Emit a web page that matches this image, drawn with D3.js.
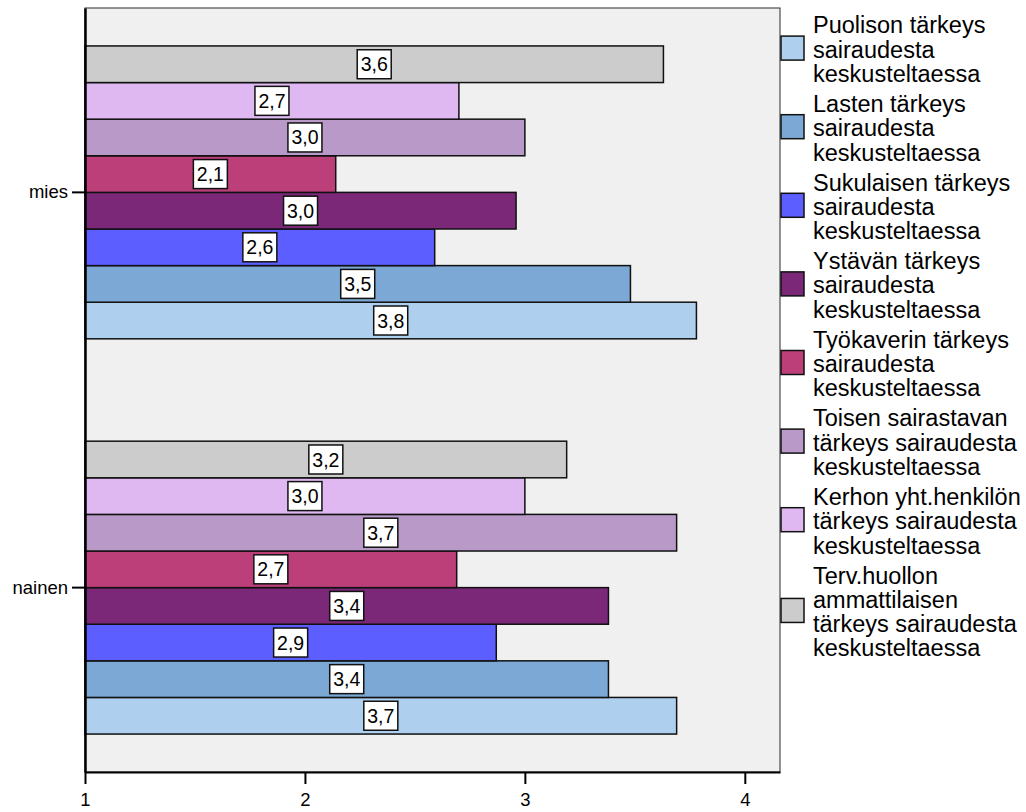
<!DOCTYPE html>
<html>
<head>
<meta charset="utf-8">
<script src="https://cdn.jsdelivr.net/npm/d3@7"></script>
<style>
  html, body { margin: 0; padding: 0; background: #ffffff; }
  svg { display: block; font-family: "Liberation Sans", Arial, sans-serif; }
</style>
</head>
<body>
<svg id="chart" width="1026" height="812"></svg>
<script>
// Groups on the vertical axis
const categories = ["mies", "nainen"];

// Series, in legend order
const seriesNames = [
  "Puolison tärkeys sairaudesta keskusteltaessa",
  "Lasten tärkeys sairaudesta keskusteltaessa",
  "Sukulaisen tärkeys sairaudesta keskusteltaessa",
  "Ystävän tärkeys sairaudesta keskusteltaessa",
  "Työkaverin tärkeys sairaudesta keskusteltaessa",
  "Toisen sairastavan tärkeys sairaudesta keskusteltaessa",
  "Kerhon yht.henkilön tärkeys sairaudesta keskusteltaessa",
  "Terv.huollon ammattilaisen tärkeys sairaudesta keskusteltaessa"
];

// Legend text, broken into lines
const legendLines = [
  ["Puolison tärkeys", "sairaudesta", "keskusteltaessa"],
  ["Lasten tärkeys", "sairaudesta", "keskusteltaessa"],
  ["Sukulaisen tärkeys", "sairaudesta", "keskusteltaessa"],
  ["Ystävän tärkeys", "sairaudesta", "keskusteltaessa"],
  ["Työkaverin tärkeys", "sairaudesta", "keskusteltaessa"],
  ["Toisen sairastavan", "tärkeys sairaudesta", "keskusteltaessa"],
  ["Kerhon yht.henkilön", "tärkeys sairaudesta", "keskusteltaessa"],
  ["Terv.huollon", "ammattilaisen", "tärkeys sairaudesta", "keskusteltaessa"]
];

const seriesColors = [
  "#aecfee", "#7ba8d5", "#5c5eff", "#7b2879",
  "#bc3f7a", "#b899c8", "#dfb8f1", "#cccccc"
];

// Mean values per group, same order as seriesNames
const miesValues   = [3.78, 3.48, 2.59, 2.96, 2.14, 3.00, 2.70, 3.63];
const nainenValues = [3.69, 3.38, 2.87, 3.38, 2.69, 3.69, 3.00, 3.19];

const xTickValues = [1, 2, 3, 4];

const valuesByCategory = { mies: miesValues, nainen: nainenValues };

const svg = d3.select("#chart");

const plot = { left: 85, right: 780, top: 8, bottom: 772 };

const x = d3.scaleLinear().domain([1, 4.16]).range([plot.left, plot.right]);

const y = d3.scaleBand()
  .domain(categories)
  .range([plot.top, plot.bottom])
  .paddingInner(0.259)
  .paddingOuter(0.096);

// Within a group the last series sits on top
const stackOrder = seriesNames.slice().reverse();
const yInner = d3.scaleBand().domain(stackOrder).range([0, y.bandwidth()]);

const color = d3.scaleOrdinal().domain(seriesNames).range(seriesColors);

// Plot background and frame
svg.append("rect")
  .attr("x", plot.left).attr("y", plot.top)
  .attr("width", plot.right - plot.left).attr("height", plot.bottom - plot.top)
  .attr("fill", "#f0f0f0")
  .attr("stroke", "#2a2a2a").attr("stroke-width", 1);

const fmt = v => d3.format(".1f")(v).replace(".", ",");

const groups = svg.append("g").selectAll("g")
  .data(categories)
  .join("g")
  .attr("transform", c => `translate(0,${y(c)})`);

const barData = c => seriesNames.map((s, i) => ({ series: s, value: valuesByCategory[c][i] }));

groups.selectAll("rect.bar")
  .data(barData)
  .join("rect")
  .attr("class", "bar")
  .attr("x", x(1))
  .attr("y", d => yInner(d.series))
  .attr("width", d => x(d.value) - x(1))
  .attr("height", yInner.bandwidth())
  .attr("fill", d => color(d.series))
  .attr("stroke", "#111")
  .attr("stroke-width", 1.5);

// Value labels in white boxes at the bar midpoints
const labels = groups.selectAll("g.lbl")
  .data(barData)
  .join("g")
  .attr("class", "lbl")
  .attr("transform", d => `translate(${(x(1) + x(d.value)) / 2},${yInner(d.series) + yInner.bandwidth() / 2})`);

labels.append("rect")
  .attr("x", -17).attr("y", -14.5)
  .attr("width", 34).attr("height", 29)
  .attr("fill", "#ffffff")
  .attr("stroke", "#111")
  .attr("stroke-width", 1.5);

labels.append("text")
  .attr("text-anchor", "middle")
  .attr("dy", "0.36em")
  .attr("font-size", "19.5px")
  .attr("fill", "#000")
  .text(d => fmt(d.value));

// Axes
const xAxis = svg.append("g")
  .attr("transform", `translate(0,${plot.bottom})`)
  .call(d3.axisBottom(x).tickValues(xTickValues).tickSize(12).tickSizeOuter(0).tickPadding(9).tickFormat(d3.format("d")));
xAxis.select(".domain").attr("stroke", "#000").attr("stroke-width", 2);
xAxis.selectAll(".tick line").attr("stroke", "#000").attr("stroke-width", 2);
xAxis.selectAll(".tick text").attr("font-size", "18.5px").attr("fill", "#000")
  .attr("font-family", "Liberation Sans, Arial, sans-serif");

const yAxis = svg.append("g")
  .attr("transform", `translate(${plot.left},0)`)
  .call(d3.axisLeft(y).tickSize(13).tickSizeOuter(0).tickPadding(4));
yAxis.select(".domain").attr("stroke", "#000").attr("stroke-width", 2.5);
yAxis.selectAll(".tick line").attr("stroke", "#000").attr("stroke-width", 2);
yAxis.selectAll(".tick text").attr("font-size", "18.5px").attr("fill", "#000")
  .attr("font-family", "Liberation Sans, Arial, sans-serif");

// Legend
const lineStep = 24.3;
const entryGap = 5.7;
const legend = svg.append("g");
let baseline = 33.3;
legendLines.forEach((lines, i) => {
  const g = legend.append("g");
  const baselines = lines.map((_, k) => baseline + k * lineStep);
  const center = d3.mean(baselines) - 9.5;
  g.append("rect")
    .attr("x", 781).attr("y", center - 12)
    .attr("width", 23).attr("height", 24)
    .attr("fill", seriesColors[i])
    .attr("stroke", "#111").attr("stroke-width", 1.5);
  g.selectAll("text")
    .data(lines)
    .join("text")
    .attr("x", 813)
    .attr("y", (_, k) => baselines[k])
    .attr("font-size", "23.5px")
    .attr("fill", "#000")
    .text(t => t);
  baseline += lines.length * lineStep + entryGap;
});
</script>
</body>
</html>
